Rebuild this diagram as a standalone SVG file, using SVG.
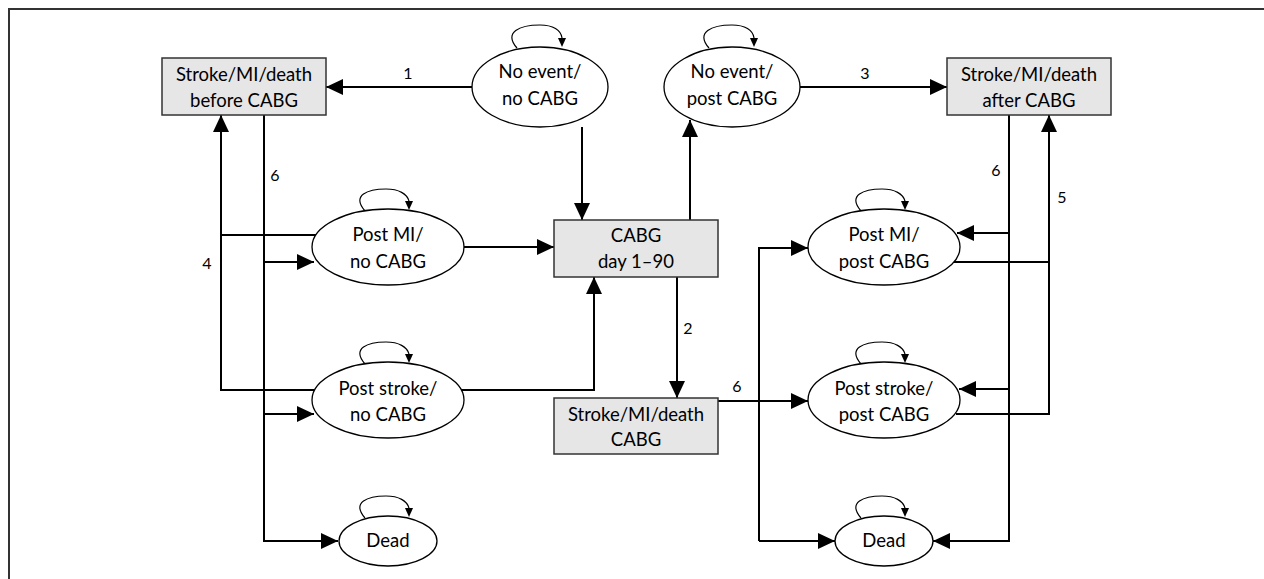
<svg xmlns="http://www.w3.org/2000/svg" width="1264" height="579" viewBox="0 0 1264 579">
<defs>
<marker id="ah" viewBox="0 0 17 16" refX="17" refY="8" markerWidth="17" markerHeight="16" orient="auto" markerUnits="userSpaceOnUse"><path d="M0,0 L17,8 L0,16 Z" fill="#000"/></marker>
<marker id="sa" viewBox="0 0 8 9" refX="4" refY="0" markerWidth="8" markerHeight="9" orient="0" markerUnits="userSpaceOnUse"><path d="M0,0 L8,0 L4,9 Z" fill="#000"/></marker>
</defs>
<style>
.box{fill:#e6e6e6;stroke:#333;stroke-width:1.5}
.ell{fill:#fff;stroke:#000;stroke-width:1.3}
.t{font-family:Lato,"Open Sans","Liberation Sans",sans-serif;font-size:18.5px;fill:#000;text-anchor:middle}
.lbl{font-family:Lato,"Open Sans","Liberation Sans",sans-serif;font-size:16px;fill:#000;text-anchor:middle}
.c{fill:none;stroke:#000;stroke-width:2}
.a{marker-end:url(#ah)}
.loop{fill:none;stroke:#000;stroke-width:1.2;marker-end:url(#sa)}
</style>
<rect width="1264" height="579" fill="#fff"/>
<path d="M9,580 V9 H1265" fill="none" stroke="#333" stroke-width="2"/>

<g id="connectors">
<path class="c a" d="M472,87 H326"/>
<path class="c a" d="M582,127 V220"/>
<path class="c a" d="M690,220 V120"/>
<path class="c a" d="M800,87 H947"/>
<path class="c a" d="M1009,115 V541 H933"/>
<path class="c a" d="M1009,233 H957"/>
<path class="c a" d="M1009,389 H959"/>
<path class="c a" d="M956,414 H1049 V115"/>
<path class="c" d="M954,262 H1049"/>
<path class="c a" d="M264,115 V541 H338"/>
<path class="c a" d="M264,262 H314"/>
<path class="c a" d="M264,414 H314"/>
<path class="c a" d="M314,390 H221 V115"/>
<path class="c" d="M316,235 H221"/>
<path class="c a" d="M463,247 H554"/>
<path class="c a" d="M461,390 H594 V277"/>
<path class="c a" d="M677,277 V398"/>
<path class="c a" d="M718,401 H808"/>
<path class="c a" d="M759,541 V248 H808"/>
<path class="c a" d="M759,541 H835"/>
<text class="lbl" x="408" y="79">1</text>
<text class="lbl" x="688" y="334">2</text>
<text class="lbl" x="865" y="79">3</text>
<text class="lbl" x="207" y="269">4</text>
<text class="lbl" x="1062" y="203">5</text>
<text class="lbl" x="275" y="181">6</text>
<text class="lbl" x="996" y="176">6</text>
<text class="lbl" x="737" y="392">6</text>
</g>

<g id="box-before">
<rect class="box" x="162" y="58" width="164" height="57"/>
<text class="t" x="244" y="81">Stroke/MI/death</text>
<text class="t" x="244" y="107">before CABG</text>
</g>
<g id="noevent-nocabg">
<path class="loop" d="M517,48 C503,32 520,25 540,25 C553,25 561,30 562,38"/>
<ellipse class="ell" cx="540" cy="87" rx="68" ry="40"/>
<text class="t" x="540" y="78">No event/</text>
<text class="t" x="540" y="105">no CABG</text>
</g>
<g id="noevent-postcabg">
<path class="loop" d="M709,48 C695,32 712,25 732,25 C745,25 753,30 754,38"/>
<ellipse class="ell" cx="732" cy="87" rx="68" ry="40"/>
<text class="t" x="732" y="78">No event/</text>
<text class="t" x="732" y="105">post CABG</text>
</g>
<g id="box-after">
<rect class="box" x="947" y="58" width="164" height="57"/>
<text class="t" x="1029" y="81">Stroke/MI/death</text>
<text class="t" x="1029" y="107">after CABG</text>
</g>
<g id="box-cabg">
<rect class="box" x="554" y="220" width="164" height="57"/>
<text class="t" x="636" y="242">CABG</text>
<text class="t" x="636" y="268">day 1–90</text>
</g>
<g id="box-cabg-event">
<rect class="box" x="554" y="398" width="164" height="56"/>
<text class="t" x="636" y="421">Stroke/MI/death</text>
<text class="t" x="636" y="446">CABG</text>
</g>
<g id="postmi-nocabg">
<path class="loop" d="M365,211 C351,195 368,189 386,189 C399,189 407,194 409,201"/>
<ellipse class="ell" cx="388" cy="247" rx="76" ry="38"/>
<text class="t" x="388" y="241">Post MI/</text>
<text class="t" x="388" y="268">no CABG</text>
</g>
<g id="poststroke-nocabg">
<path class="loop" d="M365,364 C351,348 368,342 386,342 C399,342 407,347 409,354"/>
<ellipse class="ell" cx="388" cy="400" rx="76" ry="38"/>
<text class="t" x="388" y="395">Post stroke/</text>
<text class="t" x="388" y="421">no CABG</text>
</g>
<g id="dead-left">
<path class="loop" d="M365,518 C351,502 368,496 386,496 C399,496 407,501 409,508"/>
<ellipse class="ell" cx="388" cy="541" rx="49" ry="25"/>
<text class="t" x="388" y="547">Dead</text>
</g>
<g id="postmi-postcabg">
<path class="loop" d="M861,211 C847,195 864,189 882,189 C895,189 903,194 905,201"/>
<ellipse class="ell" cx="884" cy="247" rx="76" ry="38"/>
<text class="t" x="884" y="241">Post MI/</text>
<text class="t" x="884" y="268">post CABG</text>
</g>
<g id="poststroke-postcabg">
<path class="loop" d="M861,364 C847,348 864,342 882,342 C895,342 903,347 905,354"/>
<ellipse class="ell" cx="884" cy="400" rx="76" ry="38"/>
<text class="t" x="884" y="395">Post stroke/</text>
<text class="t" x="884" y="421">post CABG</text>
</g>
<g id="dead-right">
<path class="loop" d="M861,518 C847,502 864,496 882,496 C895,496 903,501 905,508"/>
<ellipse class="ell" cx="884" cy="541" rx="49" ry="25"/>
<text class="t" x="884" y="547">Dead</text>
</g>
</svg>
